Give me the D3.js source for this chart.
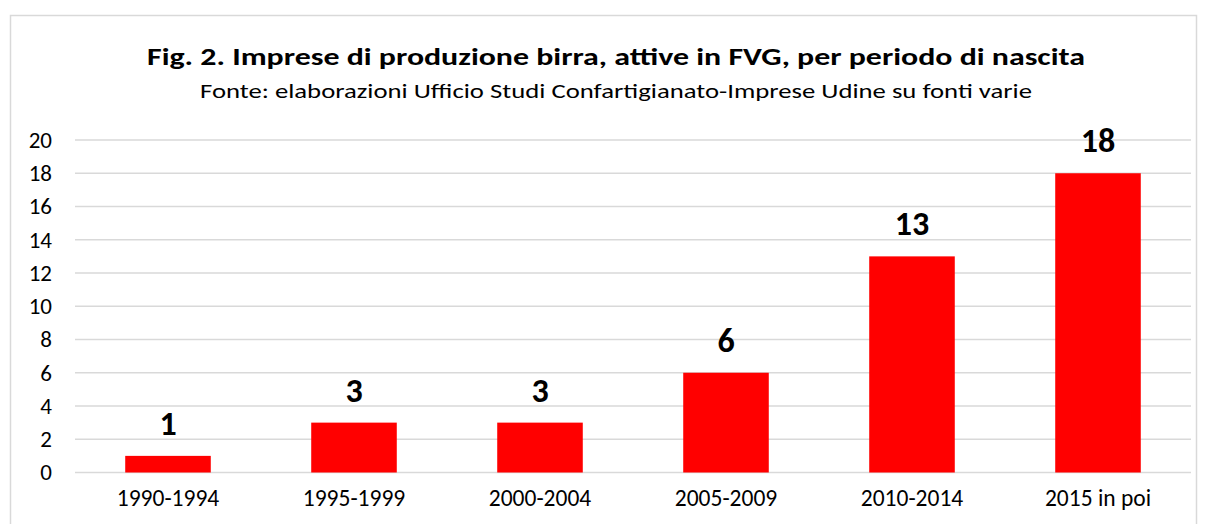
<!DOCTYPE html>
<html>
<head>
<meta charset="utf-8">
<script src="https://cdn.jsdelivr.net/npm/d3@7"></script>
<style>
  body { margin: 0; background: #fff; }
  text { font-family: Carlito, Calibri, Lato, sans-serif; }
</style>
</head>
<body>
<div id="chart"></div>
<script>
// data
const periods = ['1990-1994', '1995-1999', '2000-2004', '2005-2009', '2010-2014', '2015 in poi']
const imprese = [1, 3, 3, 6, 13, 18]
const yTicks = [0, 2, 4, 6, 8, 10, 12, 14, 16, 18, 20]

const width = 1207
const height = 524
const font = 'Carlito, Calibri, Lato, sans-serif'

const svg = d3.select('#chart')
  .append('svg')
  .attr('width', width)
  .attr('height', height)

// chart frame
svg.append('rect')
  .attr('x', 10.5).attr('y', 15.5)
  .attr('width', 1186).attr('height', 540)
  .attr('fill', 'none')
  .attr('stroke', '#d9d9d9')
  .attr('stroke-width', 1.5)

// titles
svg.append('text')
  .attr('x', 616).attr('y', 65)
  .attr('text-anchor', 'middle')
  .style('font-size', '25px')
  .style('font-weight', 'bold')
  .attr('textLength', 938)
  .attr('lengthAdjust', 'spacingAndGlyphs')
  .text('Fig. 2. Imprese di produzione birra, attive in FVG, per periodo di nascita')

svg.append('text')
  .attr('x', 616).attr('y', 98)
  .attr('text-anchor', 'middle')
  .style('font-size', '21px')
  .attr('textLength', 832)
  .attr('lengthAdjust', 'spacingAndGlyphs')
  .text('Fonte: elaborazioni Ufficio Studi Confartigianato-Imprese Udine su fonti varie')

// scales
const x = d3.scaleBand()
  .domain(periods)
  .range([75, 1191])
  .paddingInner(0.54)
  .paddingOuter(0.27)

const y = d3.scaleLinear()
  .domain([0, 20])
  .range([472.5, 140])

// gridlines
svg.append('g')
  .selectAll('line')
  .data(yTicks)
  .enter()
  .append('line')
  .attr('x1', 75).attr('x2', 1191)
  .attr('y1', d => y(d)).attr('y2', d => y(d))
  .attr('stroke', '#d9d9d9')
  .attr('stroke-width', 1.5)

// y axis labels
const yAxis = d3.axisLeft(y)
  .tickValues(yTicks)
  .tickSize(0)
  .tickPadding(0)

svg.append('g')
  .attr('transform', 'translate(52, 0)')
  .call(yAxis)
  .call(g => g.select('.domain').remove())
  .selectAll('text')
  .style('font-size', '23px')
  .style('font-family', font)
  .attr('fill', '#000')

// x axis labels
const xAxis = d3.axisBottom(x)
  .tickSize(0)
  .tickPadding(0)

svg.append('g')
  .attr('transform', 'translate(0, 489)')
  .call(xAxis)
  .call(g => g.select('.domain').remove())
  .selectAll('text')
  .style('font-size', '23.5px')
  .style('font-family', font)
  .attr('fill', '#000')

// bars
svg.selectAll('rect.bar')
  .data(imprese)
  .enter()
  .append('rect')
  .attr('class', 'bar')
  .attr('x', (d, i) => x(periods[i]))
  .attr('y', d => y(d))
  .attr('width', x.bandwidth())
  .attr('height', d => y(0) - y(d))
  .style('fill', '#ff0000')

// value labels
svg.selectAll('text.val')
  .data(imprese)
  .enter()
  .append('text')
  .attr('class', 'val')
  .attr('x', (d, i) => x(periods[i]) + x.bandwidth() / 2)
  .attr('y', d => y(d) - 21)
  .attr('text-anchor', 'middle')
  .style('font-size', '34px')
  .style('font-weight', 'bold')
  .text(d => d)
</script>
</body>
</html>
